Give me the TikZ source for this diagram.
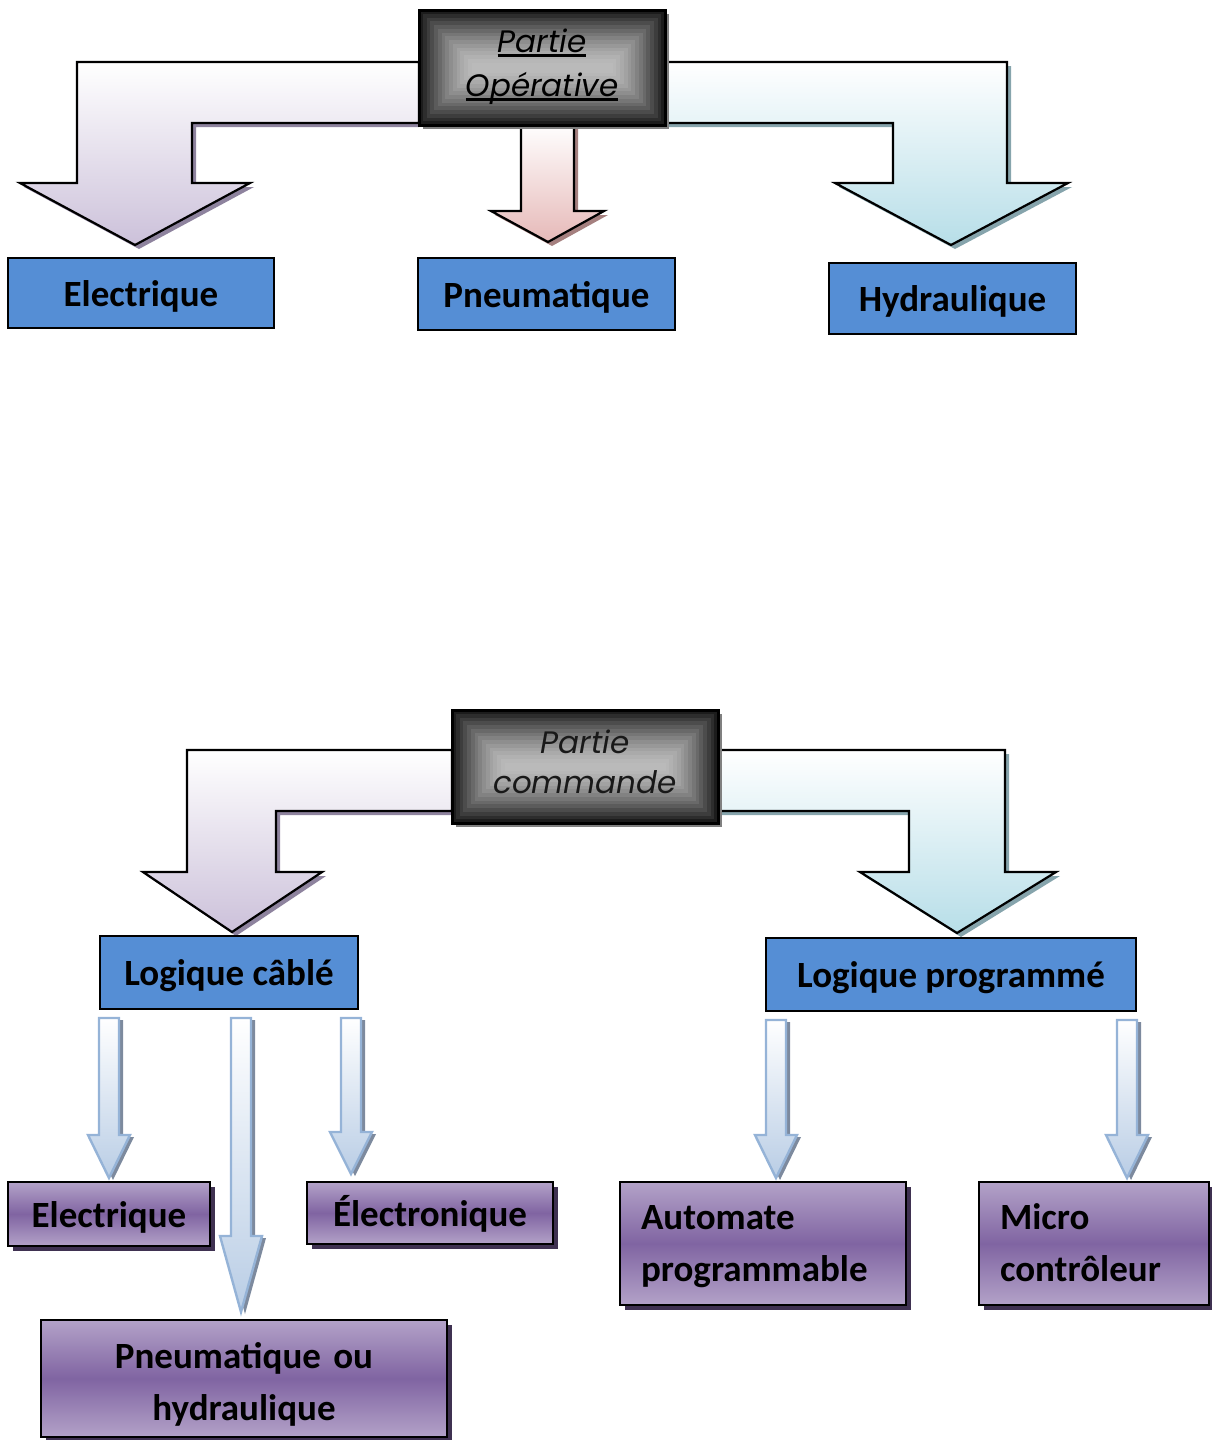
\documentclass[tikz,border=0pt]{standalone}
\usepackage{fontspec}
\setmainfont{Carlito}
\newfontfamily\gothic{Poppins}
\usetikzlibrary{shadows}

\definecolor{boxblue}{HTML}{558ED5}
\definecolor{lavend}{HTML}{CCC1DA}
\definecolor{lavshadow}{HTML}{8E839E}
\definecolor{rosefill}{HTML}{E6B9B8}
\definecolor{roseshadow}{HTML}{A5807F}
\definecolor{aquafill}{HTML}{B7DEE8}
\definecolor{aquashadow}{HTML}{86A4AC}
\definecolor{pale}{HTML}{B9CDE5}
\definecolor{paleline}{HTML}{95B3D7}
\definecolor{paleshadow}{HTML}{7D8A9E}
\definecolor{purplelight}{HTML}{B3A2C8}
\definecolor{purpledark}{HTML}{8064A2}
\definecolor{purpleshadow}{HTML}{3F3151}

\tikzset{
  labelfont/.style={font=\bfseries\fontsize{37}{52}\selectfont},
  oneline/.style={text height=34pt, text depth=8pt},
  bluebox/.style={draw=black, line width=2.2pt, fill=boxblue, labelfont, inner sep=0pt, oneline},
  purplebox/.style={draw=black, line width=2.2pt, labelfont, inner sep=0pt,
    top color=purplelight, bottom color=purplelight, middle color=purpledark,
    drop shadow={shadow xshift=5pt, shadow yshift=-5pt, fill=purpleshadow, opacity=1}},
  headbox/.style={draw=black, line width=3pt, inner sep=0pt},
  headtext/.style={align=center, inner sep=0pt, font=\gothic\itshape\fontsize{31}{44}\selectfont},
  blockline/.style={draw=black, line width=2.2pt, line join=miter},
  smallline/.style={draw=paleline, line width=2.4pt, line join=miter},
}

% thick underline for the heading words
\newcommand\thickul[1]{\setbox0\hbox{#1}\rlap{\rule[-5pt]{\wd0}{2.8pt}}\box0}

% rectangle filled with banded grey rings of equal width, dark at the rim, light at the centre
\newcommand\ringfill[4]{%
  \foreach \k in {0,...,14}{%
    \pgfmathsetmacro\pct{27+62*(1-\k/14)^1.5}%
    \pgfmathsetmacro\d{\k*3.75}%
    \fill[black!\pct!white] ({#1+\d},{#2+\d}) rectangle ({#3-\d},{#4-\d});
  }}

% slim pale-blue arrow: centre x, top y, head base y, tip y
\newcommand\slimarrow[4]{%
  \fill[paleshadow] ({#1-10+4},#2+2) -- ({#1+10+4},#2+2) -- ({#1+10+4},#3+2) -- ({#1+21+4},#3+2)
     -- ({#1+4},{#4+2}) -- ({#1-21+4},#3+2) -- ({#1-10+4},#3+2) -- cycle;
  \shade[top color=white, bottom color=pale, smallline]
     ({#1-10},#2) -- ({#1+10},#2) -- ({#1+10},#3) -- ({#1+21},#3)
     -- (#1,#4) -- ({#1-21},#3) -- ({#1-10},#3) -- cycle;
}

\begin{document}
\begin{tikzpicture}[x=1pt,y=-1pt]
\useasboundingbox (0,0) rectangle (1211,1440);

% ---------------- Partie opérative ----------------
% left branch
\fill[lavshadow] (419,66) -- (81,66) -- (81,187) -- (24,187) -- (139,249) -- (254,187)
   -- (196,187) -- (196,127) -- (419,127) -- cycle;
\shade[top color=white, bottom color=lavend, blockline]
   (419,62) -- (77,62) -- (77,183) -- (20,183) -- (135,245) -- (250,183)
   -- (192,183) -- (192,123) -- (419,123) -- cycle;
% middle branch
\fill[roseshadow] (525,127) -- (525,215) -- (495,215) -- (552,246) -- (608,215) -- (578,215) -- (578,127) -- cycle;
\shade[top color=white, bottom color=rosefill, blockline]
   (521,123) -- (521,211) -- (491,211) -- (548,242) -- (604,211) -- (574,211) -- (574,123) -- cycle;
% right branch
\fill[aquashadow] (665,66) -- (1011,66) -- (1011,187) -- (1072,187) -- (955,249) -- (839,187)
   -- (897,187) -- (897,127) -- (665,127) -- cycle;
\shade[top color=white, bottom color=aquafill, blockline]
   (665,62) -- (1007,62) -- (1007,183) -- (1068,183) -- (951,245) -- (835,183)
   -- (893,183) -- (893,123) -- (665,123) -- cycle;

\fill[black!50] (423,14) rectangle (669,129);
\ringfill{419}{10}{665}{125}
\node[headbox, minimum width=246pt, minimum height=115pt] (po) at (542,67.5) {};
\node[headtext, yshift=1pt] (potext) at (po.center) {\thickul{Partie}\\\thickul{Opérative}};

\node[bluebox, minimum width=266pt, minimum height=70pt] (elec) at (141,293) {Electrique};
\node[bluebox, minimum width=257pt, minimum height=72pt] (pneu) at (546.5,294) {Pneumatique};
\node[bluebox, minimum width=247pt, minimum height=71pt] (hydr) at (952.5,298.5) {Hydraulique};

% ---------------- Partie commande ----------------
\fill[lavshadow] (452,754) -- (191,754) -- (191,876) -- (147,876) -- (236,936) -- (326,876)
   -- (280,876) -- (280,815) -- (452,815) -- cycle;
\shade[top color=white, bottom color=lavend, blockline]
   (452,750) -- (187,750) -- (187,872) -- (143,872) -- (232,932) -- (322,872)
   -- (276,872) -- (276,811) -- (452,811) -- cycle;
\fill[aquashadow] (718,754) -- (1009,754) -- (1009,876) -- (1060,876) -- (961,937) -- (864,876)
   -- (913,876) -- (913,815) -- (718,815) -- cycle;
\shade[top color=white, bottom color=aquafill, blockline]
   (718,750) -- (1005,750) -- (1005,872) -- (1056,872) -- (957,933) -- (860,872)
   -- (909,872) -- (909,811) -- (718,811) -- cycle;

\fill[black!50] (456,714) rectangle (722,827);
\ringfill{452}{710}{718}{823}
\node[headbox, minimum width=266pt, minimum height=113pt] (pc) at (585,766.5) {};
\node[headtext, text=black!90, yshift=5pt, font=\gothic\itshape\fontsize{31}{40}\selectfont] (pctext) at (pc.center)
      {Partie\\commande};

\node[bluebox, minimum width=258pt, minimum height=73pt] (cable) at (229,972.5) {Logique câblé};
\node[bluebox, minimum width=370pt, minimum height=73pt] (prog) at (951,974.5) {Logique programmé};

% slim arrows below the two logic boxes
\slimarrow{109}{1018}{1135}{1178}
\slimarrow{241}{1018}{1236}{1312}
\slimarrow{351}{1018}{1132}{1174}
\slimarrow{776}{1020}{1135}{1178}
\slimarrow{1127}{1020}{1135}{1178}

\node[purplebox, oneline, minimum width=202pt, minimum height=64pt] (elec2) at (109,1214) {Electrique};
\node[purplebox, oneline, minimum width=246pt, minimum height=62pt] (elecn) at (430,1213) {Électronique};
\node[purplebox, text height=39pt, text depth=60pt, minimum width=406pt, minimum height=117pt,
      text width=380pt, align=center] (pnhy) at (244,1378.5)
      {Pneumatique ou\\hydraulique};
\node[purplebox, text height=31pt, text depth=60pt, minimum width=286pt, minimum height=123pt, text width=244pt, align=left] (auto) at (763,1243.5)
      {Automate\\programmable};
\node[purplebox, text height=31pt, text depth=60pt, minimum width=230pt, minimum height=123pt, text width=188pt, align=left] (micro) at (1094,1243.5)
      {Micro\\contrôleur};
\end{tikzpicture}
\end{document}
